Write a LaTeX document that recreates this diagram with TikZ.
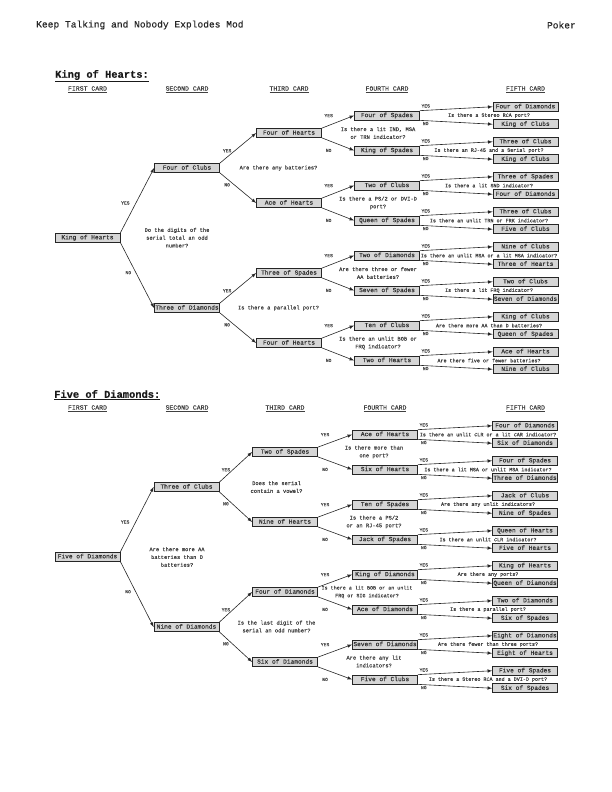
\documentclass[tikz,border=0pt]{standalone}
\usepackage{fontspec}
\setmainfont{Liberation Mono}[FakeBold=0.35]
\usetikzlibrary{arrows}

\begin{document}
\begin{tikzpicture}
    [
        x=1pt, y=-1pt,
        cardnode/.style={rectangle, draw=black!85, fill=black!16, line width=0.7pt, minimum width=65pt, minimum height=9pt, inner sep=0.5pt, text=black!80, font=\fontsize{6.2}{7}\selectfont, text height=4.4pt, text depth=1.2pt},
        questnode/.style={align=center, text=black!75, inner sep=0pt, font=\fontsize{5.4}{7.8}\selectfont},
        smallquest/.style={questnode, font=\fontsize{5.05}{7.8}\selectfont},
        ansnode/.style={text=black!70, inner sep=1pt, font=\fontsize{4.7}{5}\selectfont},
        colnode/.style={text=black!75, inner sep=0pt, font=\fontsize{6.5}{7}\selectfont},
        headnode/.style={anchor=west, inner sep=0pt, text=black!90, font=\fontsize{10.4}{12}\selectfont\bfseries},
        titlenode/.style={inner sep=0pt, text=black!85, font=\fontsize{9.6}{11}\selectfont},
        link/.style={-latex, line width=0.6pt, draw=black!85},
        yesfirst/.style={ansnode, pos=0.46, left=5pt},
        nofirst/.style={ansnode, pos=0.46, left=3.5pt},
        yessecond/.style={ansnode, pos=0.2, above=3.5pt},
        nosecond/.style={ansnode, pos=0.2, below=3pt},
        yesthird/.style={ansnode, pos=0.21, above=7pt},
        nothird/.style={ansnode, pos=0.21, below=7pt},
        yesfourth/.style={ansnode, pos=0.08, above=1.5pt},
        nofourth/.style={ansnode, pos=0.08, below=0pt}
    ]
    \useasboundingbox (0,0) rectangle (612,792);

    \node [titlenode, anchor=west] (title) at (36,25) {Keep Talking and Nobody Explodes Mod};
    \node [titlenode, anchor=east] (poker) at (576,25) {Poker};

    % King of Hearts
    \node [headnode] (hhead) at (55,76) {\underline{King of Hearts:}};
    \node [colnode] (hcol1) at (87.5,89.5) {\underline{FIRST CARD}};
    \node [colnode] (hcol2) at (187,89.5) {\underline{SECOND CARD}};
    \node [colnode] (hcol3) at (289,89.5) {\underline{THIRD CARD}};
    \node [colnode] (hcol4) at (387,89.5) {\underline{FOURTH CARD}};
    \node [colnode] (hcol5) at (525.5,89.5) {\underline{FIFTH CARD}};

    \node [cardnode] (h1) at (87.5,237.7) {King of Hearts};
    \node [cardnode] (h2a) at (187,168) {Four of Clubs};
    \node [cardnode] (h2b) at (187,308) {Three of Diamonds};
    \node [cardnode] (h3a) at (289,133) {Four of Hearts};
    \node [cardnode] (h3b) at (289,203) {Ace of Hearts};
    \node [cardnode] (h3c) at (289,273) {Three of Spades};
    \node [cardnode] (h3d) at (289,343) {Four of Hearts};
    \node [cardnode] (h4a) at (387,115.5) {Four of Spades};
    \node [cardnode] (h4b) at (387,150.5) {King of Spades};
    \node [cardnode] (h4c) at (387,185.5) {Two of Clubs};
    \node [cardnode] (h4d) at (387,220.5) {Queen of Spades};
    \node [cardnode] (h4e) at (387,255.5) {Two of Diamonds};
    \node [cardnode] (h4f) at (387,290.5) {Seven of Spades};
    \node [cardnode] (h4g) at (387,325.5) {Ten of Clubs};
    \node [cardnode] (h4h) at (387,360.5) {Two of Hearts};
    \node [cardnode] (h5a) at (525.5,106.75) {Four of Diamonds};
    \node [cardnode] (h5b) at (525.5,124.25) {King of Clubs};
    \node [cardnode] (h5c) at (525.5,141.75) {Three of Clubs};
    \node [cardnode] (h5d) at (525.5,159.25) {King of Clubs};
    \node [cardnode] (h5e) at (525.5,176.75) {Three of Spades};
    \node [cardnode] (h5f) at (525.5,194.25) {Four of Diamonds};
    \node [cardnode] (h5g) at (525.5,211.75) {Three of Clubs};
    \node [cardnode] (h5h) at (525.5,229.25) {Five of Clubs};
    \node [cardnode] (h5i) at (525.5,246.75) {Nine of Clubs};
    \node [cardnode] (h5j) at (525.5,264.25) {Three of Hearts};
    \node [cardnode] (h5k) at (525.5,281.75) {Two of Clubs};
    \node [cardnode] (h5l) at (525.5,299.25) {Seven of Diamonds};
    \node [cardnode] (h5m) at (525.5,316.75) {King of Clubs};
    \node [cardnode] (h5n) at (525.5,334.25) {Queen of Spades};
    \node [cardnode] (h5o) at (525.5,351.75) {Ace of Hearts};
    \node [cardnode] (h5p) at (525.5,369.25) {Nine of Clubs};

    \node [questnode] (hq2) at (177,237.7) {Do the digits of the\\serial total an odd\\number?};
    \node [questnode] (hq3a) at (278.5,168) {Are there any batteries?};
    \node [questnode] (hq3b) at (278.5,308) {Is there a parallel port?};
    \node [questnode] (hq4a) at (378,133) {Is there a lit IND, MSA\\or TRN indicator?};
    \node [questnode] (hq4b) at (378,203) {Is there a PS/2 or DVI-D\\port?};
    \node [questnode] (hq4c) at (378,273) {Are there three or fewer\\AA batteries?};
    \node [questnode] (hq4d) at (378,343) {Is there an unlit BOB or\\FRQ indicator?};
    \node [smallquest] (hq5a) at (489,115.5) {Is there a Stereo RCA port?};
    \node [smallquest] (hq5b) at (489,150.5) {Is there an RJ-45 and a Serial port?};
    \node [smallquest] (hq5c) at (489,185.5) {Is there a lit SND indicator?};
    \node [smallquest] (hq5d) at (489,220.5) {Is there an unlit TRN or FRK indicator?};
    \node [smallquest] (hq5e) at (489,255.5) {Is there an unlit MSA or a lit MSA indicator?};
    \node [smallquest] (hq5f) at (489,290.5) {Is there a lit FRQ indicator?};
    \node [smallquest] (hq5g) at (489,325.5) {Are there more AA than D batteries?};
    \node [smallquest] (hq5h) at (489,360.5) {Are there five or fewer batteries?};

    \draw [link] (h1.north east) -- node[yesfirst] {YES} (h2a.west);
    \draw [link] (h1.south east) -- node[nofirst] {NO} (h2b.west);
    \draw [link] (h2a.north east) -- node[yessecond] {YES} (h3a.west);
    \draw [link] (h2a.south east) -- node[nosecond] {NO} (h3b.west);
    \draw [link] (h2b.north east) -- node[yessecond] {YES} (h3c.west);
    \draw [link] (h2b.south east) -- node[nosecond] {NO} (h3d.west);
    \draw [link] (h3a.north east) -- node[yesthird] {YES} (h4a.west);
    \draw [link] (h3a.south east) -- node[nothird] {NO} (h4b.west);
    \draw [link] (h3b.north east) -- node[yesthird] {YES} (h4c.west);
    \draw [link] (h3b.south east) -- node[nothird] {NO} (h4d.west);
    \draw [link] (h3c.north east) -- node[yesthird] {YES} (h4e.west);
    \draw [link] (h3c.south east) -- node[nothird] {NO} (h4f.west);
    \draw [link] (h3d.north east) -- node[yesthird] {YES} (h4g.west);
    \draw [link] (h3d.south east) -- node[nothird] {NO} (h4h.west);
    \draw [link] (h4a.north east) -- node[yesfourth] {YES} (h5a.west);
    \draw [link] (h4a.south east) -- node[nofourth] {NO} (h5b.west);
    \draw [link] (h4b.north east) -- node[yesfourth] {YES} (h5c.west);
    \draw [link] (h4b.south east) -- node[nofourth] {NO} (h5d.west);
    \draw [link] (h4c.north east) -- node[yesfourth] {YES} (h5e.west);
    \draw [link] (h4c.south east) -- node[nofourth] {NO} (h5f.west);
    \draw [link] (h4d.north east) -- node[yesfourth] {YES} (h5g.west);
    \draw [link] (h4d.south east) -- node[nofourth] {NO} (h5h.west);
    \draw [link] (h4e.north east) -- node[yesfourth] {YES} (h5i.west);
    \draw [link] (h4e.south east) -- node[nofourth] {NO} (h5j.west);
    \draw [link] (h4f.north east) -- node[yesfourth] {YES} (h5k.west);
    \draw [link] (h4f.south east) -- node[nofourth] {NO} (h5l.west);
    \draw [link] (h4g.north east) -- node[yesfourth] {YES} (h5m.west);
    \draw [link] (h4g.south east) -- node[nofourth] {NO} (h5n.west);
    \draw [link] (h4h.north east) -- node[yesfourth] {YES} (h5o.west);
    \draw [link] (h4h.south east) -- node[nofourth] {NO} (h5p.west);

    % Five of Diamonds
    \node [headnode] (dhead) at (54,395) {\underline{Five of Diamonds:}};
    \node [colnode] (dcol1) at (87.5,408.5) {\underline{FIRST CARD}};
    \node [colnode] (dcol2) at (187,408.5) {\underline{SECOND CARD}};
    \node [colnode] (dcol3) at (285,408.5) {\underline{THIRD CARD}};
    \node [colnode] (dcol4) at (385,408.5) {\underline{FOURTH CARD}};
    \node [colnode] (dcol5) at (525.5,408.5) {\underline{FIFTH CARD}};

    \node [cardnode] (d1) at (87.5,556.7) {Five of Diamonds};
    \node [cardnode] (d2a) at (186.5,487) {Three of Clubs};
    \node [cardnode] (d2b) at (186.5,627) {Nine of Diamonds};
    \node [cardnode] (d3a) at (285,452) {Two of Spades};
    \node [cardnode] (d3b) at (285,522) {Nine of Hearts};
    \node [cardnode] (d3c) at (285,592) {Four of Diamonds};
    \node [cardnode] (d3d) at (285,662) {Six of Diamonds};
    \node [cardnode] (d4a) at (385,434.5) {Ace of Hearts};
    \node [cardnode] (d4b) at (385,469.5) {Six of Hearts};
    \node [cardnode] (d4c) at (385,504.5) {Ten of Spades};
    \node [cardnode] (d4d) at (385,539.5) {Jack of Spades};
    \node [cardnode] (d4e) at (385,574.5) {King of Diamonds};
    \node [cardnode] (d4f) at (385,609.5) {Ace of Diamonds};
    \node [cardnode] (d4g) at (385,644.5) {Seven of Diamonds};
    \node [cardnode] (d4h) at (385,679.5) {Five of Clubs};
    \node [cardnode] (d5a) at (525,425.75) {Four of Diamonds};
    \node [cardnode] (d5b) at (525,443.25) {Six of Diamonds};
    \node [cardnode] (d5c) at (525,460.75) {Four of Spades};
    \node [cardnode] (d5d) at (525,478.25) {Three of Diamonds};
    \node [cardnode] (d5e) at (525,495.75) {Jack of Clubs};
    \node [cardnode] (d5f) at (525,513.25) {Nine of Spades};
    \node [cardnode] (d5g) at (525,530.75) {Queen of Hearts};
    \node [cardnode] (d5h) at (525,548.25) {Five of Hearts};
    \node [cardnode] (d5i) at (525,565.75) {King of Hearts};
    \node [cardnode] (d5j) at (525,583.25) {Queen of Diamonds};
    \node [cardnode] (d5k) at (525,600.75) {Two of Diamonds};
    \node [cardnode] (d5l) at (525,618.25) {Six of Spades};
    \node [cardnode] (d5m) at (525,635.75) {Eight of Diamonds};
    \node [cardnode] (d5n) at (525,653.25) {Eight of Hearts};
    \node [cardnode] (d5o) at (525,670.75) {Five of Spades};
    \node [cardnode] (d5p) at (525,688.25) {Six of Spades};

    \node [questnode] (dq2) at (177,557) {Are there more AA\\batteries than D\\batteries?};
    \node [questnode] (dq3a) at (276.5,487) {Does the serial\\contain a vowel?};
    \node [questnode] (dq3b) at (276.5,626.5) {Is the last digit of the\\serial an odd number?};
    \node [questnode] (dq4a) at (374,452) {Is there more than\\one port?};
    \node [questnode] (dq4b) at (374,522) {Is there a PS/2\\or an RJ-45 port?};
    \node [smallquest] (dq4c) at (367,592) {Is there a lit BOB or an unlit\\FRQ or SIG indicator?};
    \node [questnode] (dq4d) at (374,661.5) {Are there any lit\\indicators?};
    \node [smallquest] (dq5a) at (488,434.5) {Is there an unlit CLR or a lit CAR indicator?};
    \node [smallquest] (dq5b) at (488,469.5) {Is there a lit MSA or unlit MSA indicator?};
    \node [smallquest] (dq5c) at (488,504.5) {Are there any unlit indicators?};
    \node [smallquest] (dq5d) at (488,539.5) {Is there an unlit CLR indicator?};
    \node [smallquest] (dq5e) at (488,574.5) {Are there any ports?};
    \node [smallquest] (dq5f) at (488,609.5) {Is there a parallel port?};
    \node [smallquest] (dq5g) at (488,644.5) {Are there fewer than three ports?};
    \node [smallquest] (dq5h) at (488,679.5) {Is there a Stereo RCA and a DVI-D port?};

    \draw [link] (d1.north east) -- node[yesfirst] {YES} (d2a.west);
    \draw [link] (d1.south east) -- node[nofirst] {NO} (d2b.west);
    \draw [link] (d2a.north east) -- node[yessecond] {YES} (d3a.west);
    \draw [link] (d2a.south east) -- node[nosecond] {NO} (d3b.west);
    \draw [link] (d2b.north east) -- node[yessecond] {YES} (d3c.west);
    \draw [link] (d2b.south east) -- node[nosecond] {NO} (d3d.west);
    \draw [link] (d3a.north east) -- node[yesthird] {YES} (d4a.west);
    \draw [link] (d3a.south east) -- node[nothird] {NO} (d4b.west);
    \draw [link] (d3b.north east) -- node[yesthird] {YES} (d4c.west);
    \draw [link] (d3b.south east) -- node[nothird] {NO} (d4d.west);
    \draw [link] (d3c.north east) -- node[yesthird] {YES} (d4e.west);
    \draw [link] (d3c.south east) -- node[nothird] {NO} (d4f.west);
    \draw [link] (d3d.north east) -- node[yesthird] {YES} (d4g.west);
    \draw [link] (d3d.south east) -- node[nothird] {NO} (d4h.west);
    \draw [link] (d4a.north east) -- node[yesfourth] {YES} (d5a.west);
    \draw [link] (d4a.south east) -- node[nofourth] {NO} (d5b.west);
    \draw [link] (d4b.north east) -- node[yesfourth] {YES} (d5c.west);
    \draw [link] (d4b.south east) -- node[nofourth] {NO} (d5d.west);
    \draw [link] (d4c.north east) -- node[yesfourth] {YES} (d5e.west);
    \draw [link] (d4c.south east) -- node[nofourth] {NO} (d5f.west);
    \draw [link] (d4d.north east) -- node[yesfourth] {YES} (d5g.west);
    \draw [link] (d4d.south east) -- node[nofourth] {NO} (d5h.west);
    \draw [link] (d4e.north east) -- node[yesfourth] {YES} (d5i.west);
    \draw [link] (d4e.south east) -- node[nofourth] {NO} (d5j.west);
    \draw [link] (d4f.north east) -- node[yesfourth] {YES} (d5k.west);
    \draw [link] (d4f.south east) -- node[nofourth] {NO} (d5l.west);
    \draw [link] (d4g.north east) -- node[yesfourth] {YES} (d5m.west);
    \draw [link] (d4g.south east) -- node[nofourth] {NO} (d5n.west);
    \draw [link] (d4h.north east) -- node[yesfourth] {YES} (d5o.west);
    \draw [link] (d4h.south east) -- node[nofourth] {NO} (d5p.west);

\end{tikzpicture}
\end{document}
